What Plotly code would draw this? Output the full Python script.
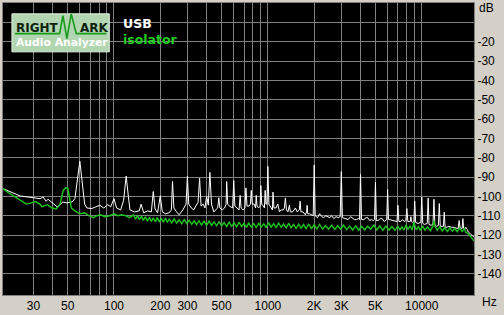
import math
import plotly.graph_objects as go

# ---------------- data ----------------
usb_hz = [19.1, 21, 24.6, 28.6, 31.2, 33.1, 34.6, 36.2, 37.3, 39, 42.7, 44.6, 46.6, 49.5, 53.3, 55.7, 57.4, 60, 62, 64.5,
          66.6, 71.8, 76.2, 80.9, 85.8, 91.1, 95.2, 100, 104, 110.5, 115.5, 120, 124, 127, 136, 146, 150, 156, 165, 175,
          180, 185, 192, 200, 206, 216, 228, 236, 240, 245, 255, 265, 280, 294, 300, 306, 318, 330, 340, 352, 360, 368,
          380, 390, 400, 410, 420, 430, 445, 462, 472, 480, 488, 505, 523, 535, 540, 548, 562, 590, 600, 610, 630, 650,
          660, 670, 690, 710, 720, 732, 755, 770, 780, 792, 815, 832, 840, 850, 870, 890, 900, 912, 935, 950, 960, 972,
          985, 1000, 1015, 1045, 1070, 1080, 1095, 1130, 1160, 1190, 1220, 1260, 1280, 1300, 1320, 1350, 1380, 1400,
          1450, 1510, 1550, 1600, 1620, 1640, 1690, 1750, 1785, 1800, 1815, 1870, 1940, 1970, 2000, 2030, 2100, 2170,
          2240, 2300, 2380, 2440, 2520, 2600, 2680, 2770, 2870, 2950, 3000, 3050, 3200, 3320, 3450, 3540, 3650, 3760,
          3880, 3940, 4000, 4060, 4200, 4350, 4450, 4580, 4700, 4850, 4930, 5000, 5070, 5200, 5370, 5530, 5700, 5920,
          6000, 6080, 6200, 6500, 6750, 6900, 7000, 7100, 7300, 7500, 7700, 7880, 8000, 8120, 8300, 8420, 8500, 8580,
          8750, 8880, 9000, 9130, 9450, 9860, 10000, 10150, 10400, 10850, 11000, 11150, 11500, 11830, 12000, 12170,
          12500, 12820, 13000, 13180, 13500, 13820, 14000, 14180, 14500, 15000, 15600, 16200, 16800, 17250, 17500,
          17750, 18000, 18300, 18500, 18700, 19000, 19300, 19700, 20100, 20800, 21800]
usb_db = [-96.1, -97.6, -99.8, -100.5, -100.8, -101.2, -100.3, -102.5, -101.5, -102.9, -105.4, -104.3, -102.9, -103.4,
          -102.9, -101.2, -92, -81.8, -92, -104, -106, -106.3, -105.4, -104.6, -106, -104.3, -105.4, -101.2, -106,
          -107, -102, -89.5, -100, -107, -108, -107.5, -104, -108.5, -107.5, -108, -97.5, -106.5, -108.5, -99.7, -108,
          -109, -108.5, -107, -92.3, -106, -108, -109.5, -107, -104, -89.6, -104, -106, -107, -105, -103, -90.6, -105,
          -104, -106, -100, -104.5, -87.6, -104, -108, -107, -106, -100.7, -106, -107, -106, -104, -92.3, -104, -105,
          -106, -91.8, -105, -106, -107, -99.5, -106, -107, -106, -95.6, -105, -105, -104, -96.9, -104, -104, -106,
          -99.5, -105, -106, -105, -94.4, -104, -105, -106, -96.9, -104, -104, -84.5, -104, -106, -107, -97.8, -106,
          -106, -104, -108, -107, -107, -106, -100.8, -107, -108, -104.6, -108, -108, -106, -108, -107, -102.5, -108,
          -108, -109.5, -108, -104.6, -109, -109, -110, -110, -83.8, -110, -111, -109, -110.5, -111, -110, -110.5, -111,
          -110, -111.5, -110.5, -111, -110.5, -87.2, -111, -111.5, -112, -110.5, -111, -112, -112, -111.5, -112, -88.4,
          -112, -112, -111, -111, -112.5, -112, -112.5, -112, -92.7, -112.5, -112.5, -111.5, -111.5, -113, -112, -96.4,
          -112, -112, -112.5, -113, -113, -104.6, -113, -113, -112, -113, -112.5, -106.3, -113, -113, -113, -110.5,
          -113, -113.5, -113, -102.5, -113.5, -114, -113.5, -100.3, -114, -114.5, -114, -100.9, -114.5, -115, -114.5,
          -101.5, -115, -115.5, -115, -103.7, -115.5, -115.5, -115.5, -108.2, -116, -116, -115.5, -116, -116, -116.5,
          -116.5, -112.5, -116.5, -116.5, -116.5, -111.5, -116.5, -117, -116, -117, -118.5, -119.5, -121]

iso_hz = [19.1, 20.5, 22.5, 24.6, 26.9, 28.6, 30.8, 33, 34, 37, 39.6, 42.1, 44.6, 46.7, 48.5, 50, 51.2, 52.8, 55.8, 60,
          64.6, 68.8, 73.5, 77.4, 82, 87.2, 93.9, 100, 105.6, 112.3, 119, 126, 134, 138, 142, 146, 151, 155, 160, 165,
          170, 175, 180, 186, 191, 197, 203, 209, 216, 222, 229, 237, 246, 255, 265, 275, 286, 297, 308, 320, 332, 344,
          357, 370, 385, 400, 415, 431, 447, 464, 482, 500, 519, 539, 559, 581, 603, 626, 650, 675, 700, 725, 750, 780,
          810, 840, 873, 905, 940, 975, 1010, 1050, 1090, 1130, 1175, 1220, 1265, 1315, 1365, 1415, 1470, 1525, 1585,
          1645, 1705, 1770, 1840, 1920, 2000, 2080, 2170, 2270, 2370, 2480, 2600, 2720, 2840, 2970, 3100, 3250, 3400,
          3560, 3720, 3890, 4070, 4260, 4450, 4660, 4880, 5100, 5340, 5590, 5850, 6120, 6400, 6700, 7000, 7200, 7430,
          7660, 7900, 8150, 8400, 8650, 8900, 9200, 9500, 9800, 10100, 10500, 10900, 11400, 11800, 12000, 12200, 12600,
          13100, 13600, 14100, 14700, 15200, 15800, 16400, 17000, 17600, 18300, 18900, 19400, 20100, 20800, 21800]
iso_db = [-96.1, -98, -100, -102, -104, -103.5, -102.7, -104, -105.3, -104.3, -106, -106.5, -104, -97, -95.5, -95.6,
          -100, -106, -107.5, -109, -108.5, -110, -111, -110, -109.5, -110.5, -110, -109, -110, -109.5, -110, -111,
          -109.6, -111.8, -109.9, -112, -110.3, -112.4, -110.6, -112.8, -110.8, -113, -111.2, -113.1, -111, -113.2,
          -111.4, -113.4, -111.2, -113.5, -111.7, -113.7, -111.6, -113.8, -112.2, -114.1, -112, -114, -112.3, -114.4,
          -112.6, -114.6, -112.6, -114.8, -112.9, -114.9, -112.8, -115, -113.1, -115.2, -113, -115.3, -113.5, -115.6,
          -113.3, -115.5, -113.7, -115.8, -113.4, -115.6, -114, -116, -113.8, -115.9, -114.1, -116.1, -113.9, -115.8,
          -114.2, -116.2, -113.6, -115.9, -114.1, -116.1, -113.8, -116, -114.3, -116.3, -113.9, -116.2, -114.5, -116.6,
          -114.3, -116.5, -114.6, -116.7, -114.4, -116.6, -114.7, -116.8, -114.5, -116.9, -115.1, -117, -114.9, -117.1,
          -115.2, -116.9, -114.8, -117.2, -115.4, -117.4, -115.3, -117.5, -115.5, -117.4, -115.4, -117, -114.8, -117.3,
          -115.3, -117.5, -115.4, -117.4, -115.6, -117.6, -115.3, -117.5, -115.7, -117.4, -114.8, -117.1, -115.2,
          -117.4, -113.5, -117.3, -115.7, -117.6, -115.3, -117.5, -115.9, -117.8, -115.5, -112.5, -115.5, -117.5,
          -115.8, -117.9, -116.1, -118.2, -116.3, -118, -116.4, -118.3, -116.3, -118.1, -116.7, -118.8, -119.2, -121,
          -123]

x_grid = [30, 40, 50, 60, 70, 80, 90, 100, 200, 300, 400, 500, 600, 700, 800, 900,
          1000, 2000, 3000, 4000, 5000, 6000, 7000, 8000, 9000, 10000]
x_text = ["30", "", "50", "", "", "", "", "100", "200", "300", "", "500", "", "", "", "",
          "1000", "2K", "3K", "", "5K", "", "", "", "", "10000"]
y_grid = [-10, -20, -30, -40, -50, -60, -70, -80, -90, -100, -110, -120, -130, -140]
y_text = ["", "-20", "-30", "-40", "-50", "-60", "-70", "-80", "-90", "-100", "-110", "-120", "-130", "-140"]

series_names = ["USB", "isolator"]

# ---------------- layout helpers ----------------
W, H = 504, 315
L, R, T, B = 3, 27, 2, 17
PW, PH = W - L - R, H - T - B


def px(x):
    return (x - L) / PW


def py(y):
    return 1 - (y - T) / PH


TICKFONT = dict(family="Liberation Sans Narrow, Arial Narrow, Liberation Sans, Arial", size=12, color="#000000")

fig = go.Figure()
fig.add_trace(go.Scatter(x=usb_hz, y=usb_db, mode="lines", name=series_names[0],
                         line=dict(color="#ffffff", width=1), hoverinfo="skip"))
fig.add_trace(go.Scatter(x=iso_hz, y=iso_db, mode="lines", name=series_names[1],
                         line=dict(color="#1ec81e", width=1.4), hoverinfo="skip"))

fig.update_layout(
    width=W, height=H, autosize=False,
    margin=dict(l=L, r=R, t=T, b=B, pad=0),
    paper_bgcolor="#d4d0c8", plot_bgcolor="#000000",
    showlegend=False,
    xaxis=dict(type="log", range=[math.log10(19.0), math.log10(21850)],
               tickmode="array", tickvals=x_grid, ticktext=x_text,
               showgrid=True, gridcolor="#808080", gridwidth=1, zeroline=False,
               showline=True, linecolor="#808080", linewidth=1, mirror=True,
               ticks="", tickfont=TICKFONT, fixedrange=True),
    yaxis=dict(range=[-151, 0], side="right",
               tickmode="array", tickvals=y_grid, ticktext=y_text,
               showgrid=True, gridcolor="#808080", gridwidth=1, zeroline=False,
               showline=True, linecolor="#808080", linewidth=1, mirror=True,
               ticks="", tickfont=TICKFONT, fixedrange=True),
)

shapes = []
# logo box
shapes.append(dict(type="rect", xref="paper", yref="paper",
                   x0=px(12), x1=px(110), y0=py(13), y1=py(51.5),
                   fillcolor="#b2d6b2", line=dict(color="#e6f2e6", width=1), layer="above"))
wave = [(15, 33), (60, 33), (63.3, 14.7), (67.3, 38), (71.7, 13), (76.7, 33), (107, 33)]
path = "M " + " L ".join(f"{px(a):.5f},{py(b):.5f}" for a, b in wave)
shapes.append(dict(type="path", xref="paper", yref="paper", path=path,
                   line=dict(color="#1a9a1a", width=1.6), layer="above"))
fig.update_layout(shapes=shapes)

ann = []
logo_font = "DejaVu Sans"
ann.append(dict(x=px(14.5), y=py(27.5), xref="paper", yref="paper", text="<b>RIGHT</b>", showarrow=False,
                xanchor="left", yanchor="middle", font=dict(family=logo_font, size=12, color="#0d220d")))
ann.append(dict(x=px(78), y=py(27.5), xref="paper", yref="paper", text="<b>ARK</b>", showarrow=False,
                xanchor="left", yanchor="middle", font=dict(family=logo_font, size=12, color="#0d220d")))
ann.append(dict(x=px(14.5), y=py(42.5), xref="paper", yref="paper", text="<b>Audio Analyzer</b>", showarrow=False,
                xanchor="left", yanchor="middle", font=dict(family=logo_font, size=10.8, color="#ffffff")))
ann.append(dict(x=px(121.5), y=py(23), xref="paper", yref="paper", text="<b>" + series_names[0] + "</b>",
                showarrow=False, xanchor="left", yanchor="middle",
                font=dict(family=logo_font, size=12.5, color="#ffffff")))
ann.append(dict(x=px(121.5), y=py(38.5), xref="paper", yref="paper", text="<b>" + series_names[1] + "</b>",
                showarrow=False, xanchor="left", yanchor="middle",
                font=dict(family=logo_font, size=12.5, color="#22cc22")))
ann.append(dict(x=px(480), y=py(7), xref="paper", yref="paper", text="dB", showarrow=False,
                xanchor="left", yanchor="middle", font=TICKFONT))
ann.append(dict(x=px(483), y=py(305), xref="paper", yref="paper", text="Hz", showarrow=False,
                xanchor="left", yanchor="middle", font=TICKFONT))
fig.update_layout(annotations=ann)

fig.write_html("out.html", config=dict(displayModeBar=False, staticPlot=True))
